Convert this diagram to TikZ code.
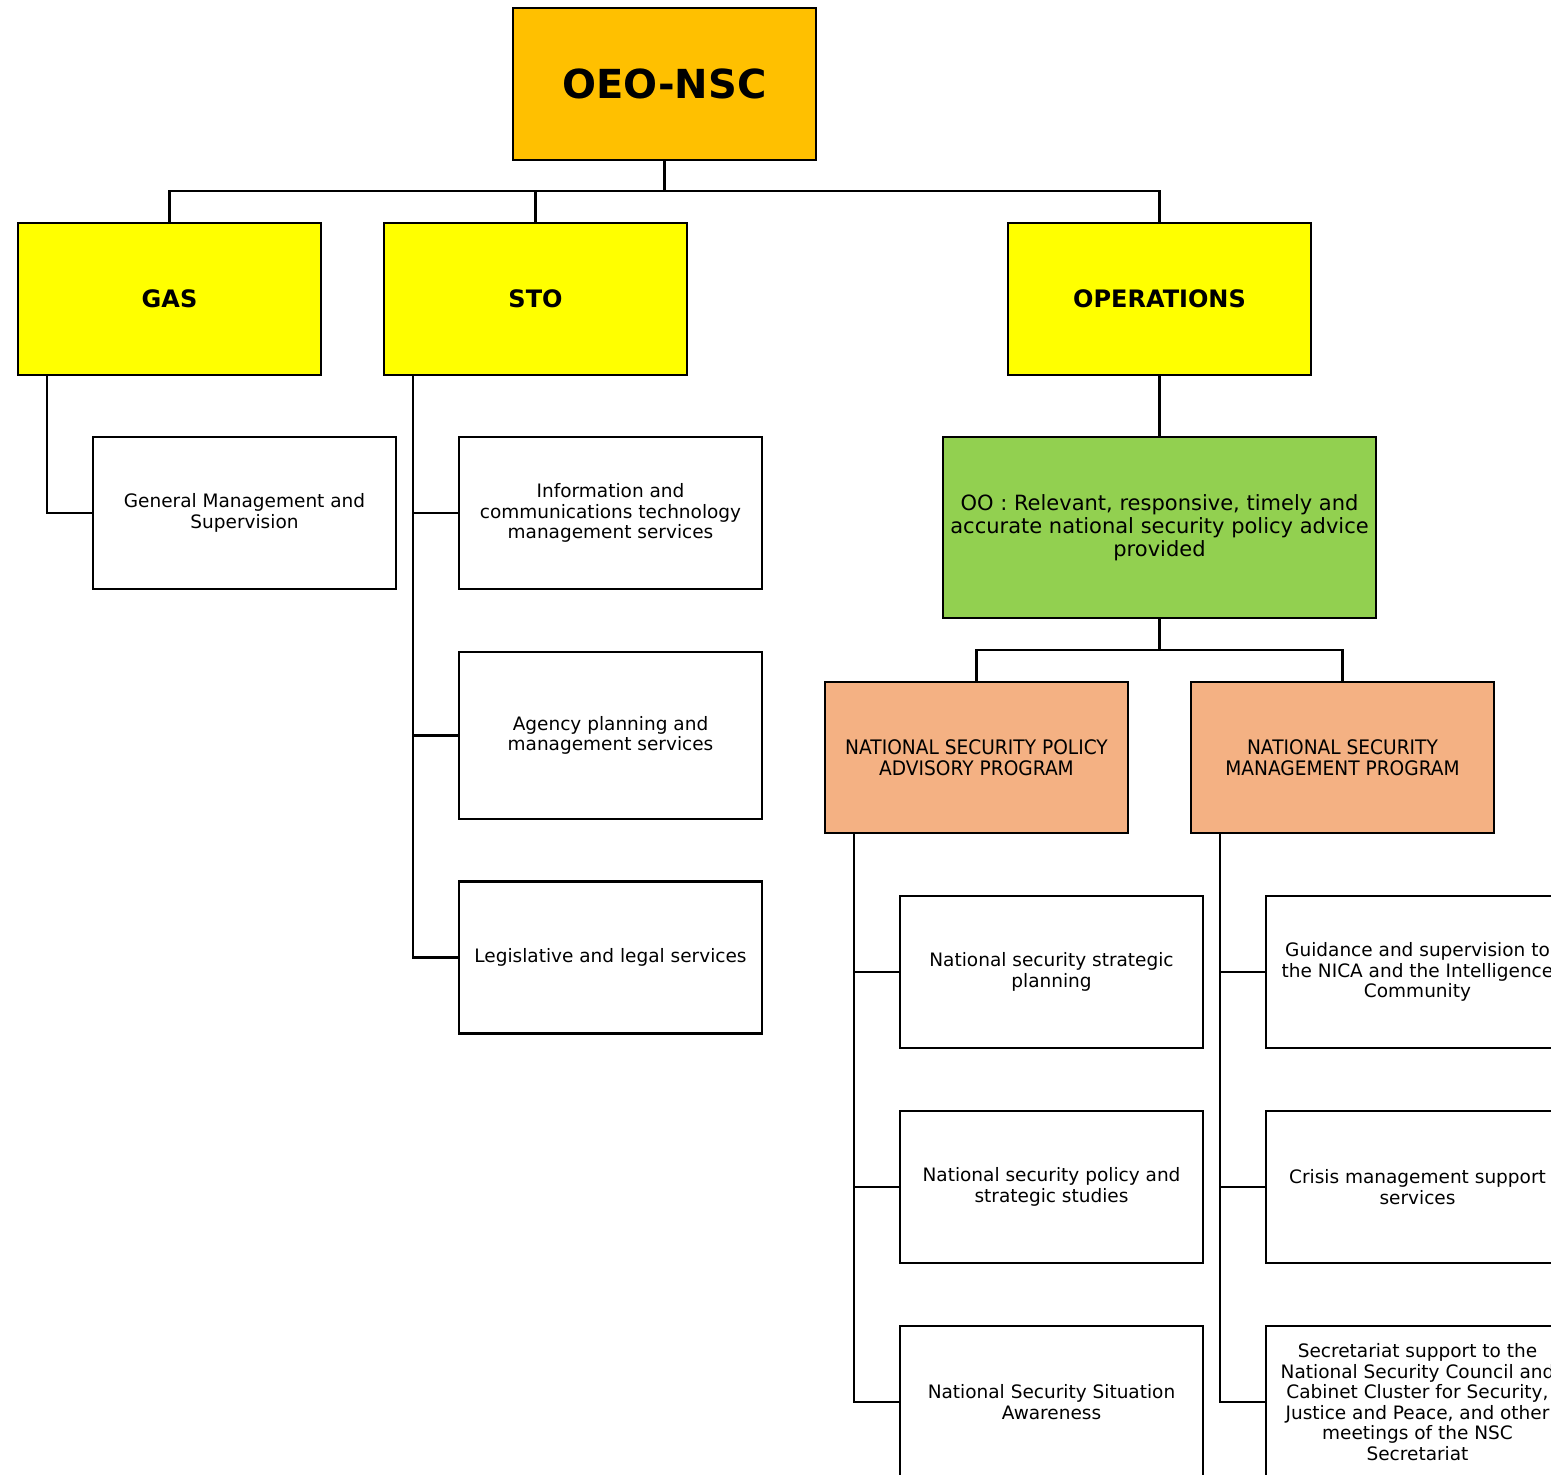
\documentclass[tikz,border=0pt]{standalone}
\usepackage{fontspec}
\setmainfont{DejaVu Sans}
\newfontfamily\condfont[FakeStretch=0.93]{DejaVu Sans}
\definecolor{topc}{HTML}{FFC000}
\definecolor{yel}{HTML}{FFFF00}
\definecolor{grn}{HTML}{92D050}
\definecolor{org}{HTML}{F4B183}
\begin{document}
\begin{tikzpicture}[x=1pt,y=-1pt,
  box/.style={draw=black, line width=2.5pt, minimum width=303pt, minimum height=152pt, inner sep=2pt, align=center, font=\fontsize{18.5pt}{20.5pt}\selectfont},
  head/.style={box, fill=yel, font=\bfseries\fontsize{24pt}{26pt}\selectfont},
  prog/.style={box, fill=org, minimum height=151pt, font=\condfont\fontsize{20pt}{21pt}\selectfont},
  conn/.style={line width=2.5pt}]
\useasboundingbox (0,0) rectangle (1551,1475);
\clip (0,0) rectangle (1551,1475);
% top
\node[box, fill=topc, font=\bfseries\fontsize{40pt}{44pt}\selectfont] (top) at (664.5,84) {OEO-NSC};
\node[head] (gas) at (169.5,299) {GAS};
\node[head] (sto) at (535.5,299) {STO};
\node[head] (ops) at (1159.5,299) {OPERATIONS};
% GAS / STO children
\node[box] (gm) at (244.5,513) {General Management and\\Supervision};
\node[box] (ict) at (610.5,513) {Information and\\communications technology\\management services};
\node[box, minimum height=167pt] (apm) at (610.5,735.5) {Agency planning and\\management services};
\node[box] (leg) at (610.5,957.5) {Legislative and legal services};
% operations
\node[box, fill=grn, minimum width=433pt, minimum height=181pt, font=\fontsize{21pt}{23pt}\selectfont] (oo) at (1159.5,527.5) {OO : Relevant, responsive, timely and\\accurate national security policy advice\\provided};
\node[prog] (pa) at (976.5,757.5) {NATIONAL SECURITY POLICY\\ADVISORY PROGRAM};
\node[prog] (pm) at (1342.5,757.5) {NATIONAL SECURITY\\MANAGEMENT PROGRAM};
\node[box] (a1) at (1051.5,972) {National security strategic\\planning};
\node[box] (a2) at (1051.5,1187) {National security policy and\\strategic studies};
\node[box] (a3) at (1051.5,1402) {National Security Situation\\Awareness};
\node[box] (b1) at (1417.5,972) {Guidance and supervision to\\the NICA and the Intelligence\\Community};
\node[box] (b2) at (1417.5,1187) {Crisis management support\\services};
\node[box] (b3) at (1417.5,1402) {Secretariat support to the\\National Security Council and\\Cabinet Cluster for Security,\\Justice and Peace, and other\\meetings of the NSC\\Secretariat};
% connectors
\coordinate (j1) at (664.5,191);
\draw[conn] (top.south) -- (j1) -| (gas.north);
\draw[conn] (j1) -| (sto.north);
\draw[conn] (j1) -| (ops.north);
\draw[conn] ([xshift=30pt]gas.south west) |- (gm.west);
\draw[conn] ([xshift=30pt]sto.south west) |- (ict.west);
\draw[conn] ([xshift=30pt]sto.south west) |- (apm.west);
\draw[conn] ([xshift=30pt]sto.south west) |- (leg.west);
\draw[conn] (ops.south) -- (oo.north);
\coordinate (j2) at (1159.5,650);
\draw[conn] (oo.south) -- (j2) -| (pa.north);
\draw[conn] (j2) -| (pm.north);
\draw[conn] ([xshift=30pt]pa.south west) |- (a1.west);
\draw[conn] ([xshift=30pt]pa.south west) |- (a2.west);
\draw[conn] ([xshift=30pt]pa.south west) |- (a3.west);
\draw[conn] ([xshift=30pt]pm.south west) |- (b1.west);
\draw[conn] ([xshift=30pt]pm.south west) |- (b2.west);
\draw[conn] ([xshift=30pt]pm.south west) |- (b3.west);
\end{tikzpicture}
\end{document}
